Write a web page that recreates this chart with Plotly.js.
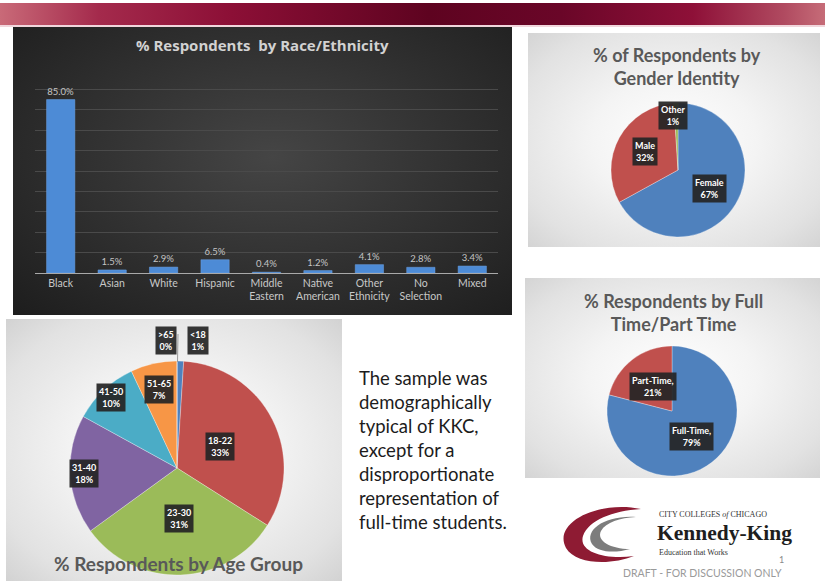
<!DOCTYPE html>
<html>
<head>
<meta charset="utf-8">
<script src="https://cdn.plot.ly/plotly-3.0.1.min.js"></script>
<style>
  html, body { margin:0; padding:0; background:#ffffff; }
  #wrap { position:relative; width:825px; height:584px; overflow:hidden; background:#ffffff; }
  .bg { position:absolute; }
  #banner { left:0; top:3px; width:825px; height:22px;
    background:linear-gradient(to right,#c96a78 0%,#a42a4c 12%,#8c0f36 28%,#5e0320 52%,#6a0628 68%,#8e1038 84%,#b04a60 95%,#c66c78 100%); }
  #bandline { left:0; top:25px; width:825px; height:2px; background:#f1d6dc; }
  #darkp { left:13px; top:27px; width:499px; height:288px;
    background:radial-gradient(ellipse at 52% 45%,#454545 0%,#333333 45%,#232323 85%,#1d1d1d 100%); }
  #genp { left:528px; top:33px; width:292px; height:214px;
    background:radial-gradient(ellipse at 50% 50%,#ffffff 0%,#f4f4f4 40%,#e2e2e2 80%,#d4d4d4 100%); }
  #ftp { left:525px; top:278px; width:295px; height:200px;
    background:radial-gradient(ellipse at 50% 50%,#ffffff 0%,#f4f4f4 40%,#e2e2e2 80%,#d4d4d4 100%); }
  #agep { left:6px; top:319px; width:336px; height:262px;
    background:radial-gradient(ellipse at 50% 50%,#ffffff 0%,#f4f4f4 40%,#e2e2e2 80%,#d2d2d2 100%); }
  #chart { position:absolute; left:0; top:0; width:825px; height:584px; }
</style>
</head>
<body>
<div id="wrap">
  <div class="bg" id="banner"></div>
  <div class="bg" id="bandline"></div>
  <div class="bg" id="darkp"></div>
  <div class="bg" id="genp"></div>
  <div class="bg" id="ftp"></div>
  <div class="bg" id="agep"></div>
  <div id="chart"></div>
</div>
<script>
// ---------------- DATA ----------------
const raceCategories = ['Black','Asian','White','Hispanic','Middle<br>Eastern','Native<br>American','Other<br>Ethnicity','No<br>Selection','Mixed'];
const racePercent = [85.0, 1.5, 2.9, 6.5, 0.4, 1.2, 4.1, 2.8, 3.4];

const genderLabels = ['Female','Male','Other'];
const genderPercent = [67, 32, 1];

const ageLabels = ['<18','18-22','23-30','31-40','41-50','51-65','>65'];
const agePercent = [1, 33, 31, 18, 10, 7, 0];

const statusLabels = ['Full-Time','Part-Time'];
const statusPercent = [79, 21];

const summaryLines = ['The sample was','demographically','typical of KKC,','except for a','disproportionate','representation of','full-time students.'];

// ---------------- STYLE / GEOMETRY ----------------
const W = 825, H = 584;
const px = x => x / W;
const py = y => 1 - y / H;
const C_BLUE = '#4F81BD', C_RED = '#C0504D', C_GREEN = '#9BBB59', C_PURPLE = '#8064A2',
      C_AQUA = '#4BACC6', C_ORANGE = '#F79646', C_DKBLUE = '#2C4D75';

const genderGeo = {cx:678, cy:170, r:67, colors:[C_BLUE, C_RED, C_GREEN],
  lf:[0.55, 0.57, 0.82], dx:[0,0,-3], sep:'<br>'};
const statusGeo = {cx:672, cy:411, r:65, colors:[C_BLUE, C_RED],
  lf:[0.5, 0.47], dx:[0,0], sep:',<br>'};
const ageGeo = {cx:177, cy:468, r:107, colors:[C_BLUE, C_RED, C_GREEN, C_PURPLE, C_AQUA, C_ORANGE, C_DKBLUE],
  lf:[1.19, 0.45, 0.47, 0.87, 0.9, 0.75, 1.19], dx:[17,0,0,0,0,0,-11], sep:'<br>'};

function dom(g){
  return {x:[px(g.cx-g.r), px(g.cx+g.r)], y:[py(g.cy+g.r), py(g.cy-g.r)]};
}
function pieTrace(labels, values, g){
  return {type:'pie', labels:labels, values:values, domain:dom(g), sort:false,
    direction:'clockwise', rotation:0, textinfo:'none', hoverinfo:'label+percent',
    marker:{colors:g.colors, line:{color:'rgba(255,255,255,0.6)', width:0.5}}, showlegend:false};
}
function pieLabels(labels, values, g){
  const total = values.reduce((a,b)=>a+b,0);
  let cum = 0; const out = [];
  labels.forEach((lab,i)=>{
    const mid = (cum + values[i]/2) / total; cum += values[i];
    const ang = mid * 2 * Math.PI;
    const x = g.cx + g.lf[i]*g.r*Math.sin(ang) + g.dx[i];
    const y = g.cy - g.lf[i]*g.r*Math.cos(ang);
    out.push({xref:'paper', yref:'paper', x:px(x), y:py(y), xanchor:'center', yanchor:'middle',
      text:'<b>'+lab+g.sep+Math.round(values[i]/total*100)+'%</b>', showarrow:false,
      font:{family:'Lato, Liberation Sans, sans-serif', size:9, color:'#ffffff'},
      bgcolor:'rgba(38,38,38,0.93)', borderpad:2, align:'center'});
  });
  return out;
}

const barTrace = {
  type:'bar', x:raceCategories, y:racePercent, xaxis:'x', yaxis:'y',
  marker:{color:'#4D8BD6', line:{color:'#6fa5e6', width:0.5}},
  texttemplate:'%{y:.1f}%', textposition:'outside', cliponaxis:false,
  textfont:{family:'Lato, sans-serif', size:9.5, color:'#c4c4c4'},
  hoverinfo:'x+y', showlegend:false
};

const titleFont = {family:'Lato, Open Sans, sans-serif', size:18, color:'#595959'};

const annotations = [
  {xref:'paper', yref:'paper', x:px(262), y:py(45), xanchor:'center', yanchor:'middle', showarrow:false,
   text:'<b>% Respondents  by Race/Ethnicity</b>', font:{family:'Open Sans, sans-serif', size:15, color:'#d2d2d2'}},
  {xref:'paper', yref:'paper', x:px(677), y:py(66), xanchor:'center', yanchor:'middle', showarrow:false,
   text:'<b>% of Respondents by<br>Gender Identity</b>', font:titleFont},
  {xref:'paper', yref:'paper', x:px(673), y:py(312), xanchor:'center', yanchor:'middle', showarrow:false,
   text:'<b>% Respondents by Full<br>Time/Part Time</b>', font:titleFont},
  {xref:'paper', yref:'paper', x:px(178), y:py(563), xanchor:'center', yanchor:'middle', showarrow:false,
   text:'<b>% Respondents by Age Group</b>', font:{family:'Lato, Open Sans, sans-serif', size:19, color:'#595959'}},
  {xref:'paper', yref:'paper', x:px(357), y:py(365), xanchor:'left', yanchor:'top', showarrow:false, align:'left',
   text:summaryLines.join('<br>'), font:{family:'Lato, sans-serif', size:18.5, color:'#1c1c1c'}},
  // logo texts
  {xref:'paper', yref:'paper', x:px(657), y:py(514), xanchor:'left', yanchor:'middle', showarrow:false,
   text:'CITY COLLEGES <i>of</i> CHICAGO', font:{family:'Liberation Serif, serif', size:8, color:'#333333'}},
  {xref:'paper', yref:'paper', x:px(655), y:py(533), xanchor:'left', yanchor:'middle', showarrow:false,
   text:'<b>Kennedy-King</b>', font:{family:'Liberation Serif, serif', size:21.5, color:'#1e1e1e'}},
  {xref:'paper', yref:'paper', x:px(657), y:py(552), xanchor:'left', yanchor:'middle', showarrow:false,
   text:'Education that Works', font:{family:'Liberation Serif, serif', size:8, color:'#333333'}},
  {xref:'paper', yref:'paper', x:px(781), y:py(559), xanchor:'center', yanchor:'middle', showarrow:false,
   text:'1', font:{family:'Lato, sans-serif', size:9, color:'#8a8a8a'}},
  {xref:'paper', yref:'paper', x:px(702), y:py(573), xanchor:'center', yanchor:'middle', showarrow:false,
   text:'DRAFT - FOR DISCUSSION ONLY', font:{family:'Lato, sans-serif', size:10.5, color:'#9a9a9a'}}
].concat(pieLabels(genderLabels, genderPercent, genderGeo))
 .concat(pieLabels(statusLabels, statusPercent, statusGeo))
 .concat(pieLabels(ageLabels, agePercent, ageGeo));

function pathPx(cmds){
  return cmds.map(c=>{
    const L = c[0]; const nums = c.slice(1); const parts=[];
    for(let i=0;i<nums.length;i+=2){ parts.push(px(nums[i]).toFixed(5)+','+py(nums[i+1]).toFixed(5)); }
    return L+parts.join(' ');
  }).join(' ')+' Z';
}

const shapes = [
  {type:'line', xref:'paper', yref:'paper', x0:px(178), y0:py(334), x1:px(177.5), y1:py(362),
   line:{color:'#9a9a9a', width:1}},
  {type:'path', xref:'paper', yref:'paper', fillcolor:'#8e1b33', line:{width:0},
   path:pathPx([['M',641,509],['C',600,500, 552,522, 566,548],['C',576,565, 612,565, 634,556],
                ['C',606,560, 578,552, 583,536],['C',589,520, 612,511, 641,509]])},
  {type:'path', xref:'paper', yref:'paper', fillcolor:'#7d7d7d', line:{width:0},
   path:pathPx([['M',636,517],['C',605,515, 584,530, 592,544],['C',598,553, 616,553, 630,549],
                ['C',611,549, 596,541, 601,531],['C',606,522, 620,518, 636,517]])}
];

const layout = {
  width:W, height:H, margin:{l:0, r:0, t:0, b:0},
  paper_bgcolor:'rgba(0,0,0,0)', plot_bgcolor:'rgba(0,0,0,0)',
  showlegend:false, bargap:0.45,
  xaxis:{domain:[px(35), px(498)], anchor:'y', showgrid:false, zeroline:false,
    showline:true, linecolor:'#a9a9a9', linewidth:1, ticks:'', fixedrange:true,
    tickfont:{family:'Lato, sans-serif', size:10.5, color:'#c8c8c8'}},
  yaxis:{domain:[py(273), py(69)], anchor:'x', range:[0,100], dtick:10, showticklabels:false,
    showgrid:true, gridcolor:'#4a4a4a', gridwidth:1, zeroline:false, ticks:'', fixedrange:true},
  annotations:annotations, shapes:shapes
};

Plotly.newPlot('chart', [barTrace,
  pieTrace(genderLabels, genderPercent, genderGeo),
  pieTrace(statusLabels, statusPercent, statusGeo),
  pieTrace(ageLabels, agePercent, ageGeo)], layout, {displayModeBar:false, staticPlot:true});
</script>
</body>
</html>
